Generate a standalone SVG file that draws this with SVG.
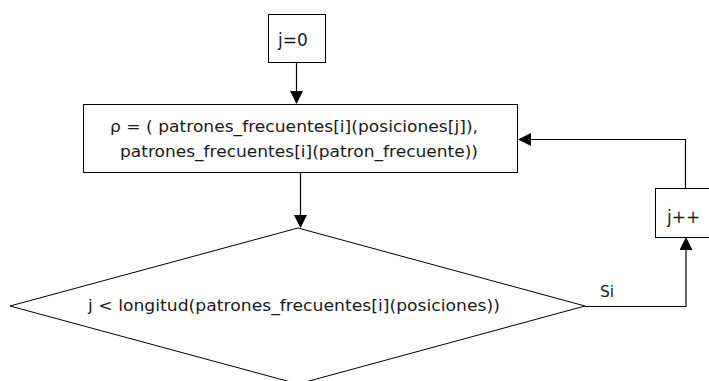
<svg xmlns="http://www.w3.org/2000/svg" width="709" height="381" viewBox="0 0 709 381">
<style>
.n{fill:#fff;stroke:#000;stroke-width:1}
.t{font-family:"DejaVu Sans",sans-serif;font-size:15.5px;fill:#1a1a1a}
.b{font-size:17px}
.c{fill:none;stroke:#000;stroke-width:1.2}
</style>
<defs>
<marker id="a" markerWidth="13" markerHeight="13" refX="12" refY="6.5" orient="auto" markerUnits="userSpaceOnUse">
<path d="M0,0 L13,6.5 L0,13 Z" fill="#000"/>
</marker>
</defs>
<rect width="709" height="381" fill="#fff"/>
<g id="connectors">
<path class="c" d="M296.5,62 V103" marker-end="url(#a)"/>
<path class="c" d="M300.5,173 V227" marker-end="url(#a)"/>
<path class="c" d="M585,306.5 H686 V238" marker-end="url(#a)"/>
<path class="c" d="M685.5,188 V139.5 H519" marker-end="url(#a)"/>
<text class="t" x="600" y="297">Si</text>
</g>
<g id="init">
<rect class="n" x="268.5" y="14.5" width="57" height="48"/>
<text class="t b" x="293" y="46" text-anchor="middle">j=0</text>
</g>
<g id="assign">
<rect class="n" x="83.5" y="104.5" width="434" height="68"/>
<text class="t" x="110" y="132" textLength="368" lengthAdjust="spacingAndGlyphs">ρ = ( patrones_frecuentes[i](posiciones[j]),</text>
<text class="t" x="120" y="157" textLength="358" lengthAdjust="spacingAndGlyphs">patrones_frecuentes[i](patron_frecuente))</text>
</g>
<g id="cond">
<polygon class="n" points="298,228 585,306 298,384 10,306"/>
<text class="t" x="88" y="311" textLength="412" lengthAdjust="spacingAndGlyphs">j &lt; longitud(patrones_frecuentes[i](posiciones))</text>
</g>
<g id="inc">
<rect class="n" x="655.5" y="188.5" width="55" height="49"/>
<text class="t b" x="667" y="223">j++</text>
</g>
</svg>
